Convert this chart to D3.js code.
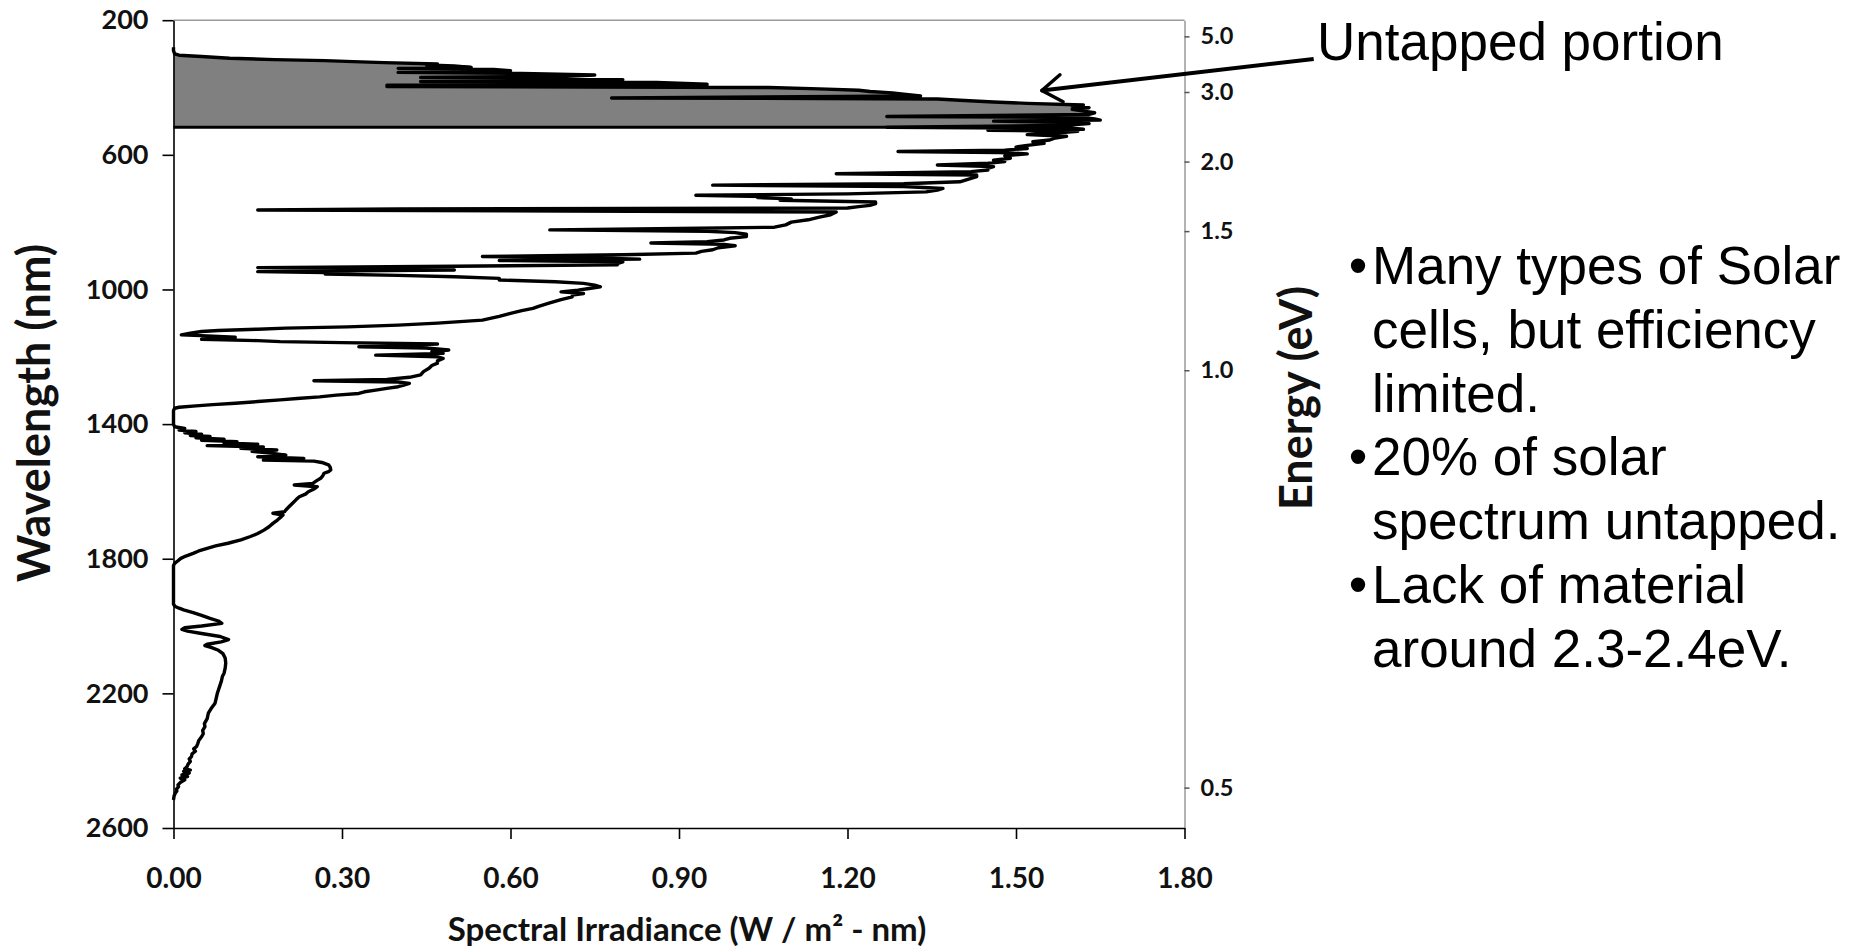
<!DOCTYPE html>
<html>
<head>
<meta charset="utf-8">
<script src="https://cdn.jsdelivr.net/npm/d3@7"></script>
<style>
  body { margin: 0; background: #fff; }
  svg { display: block; }
  .axis text { font-family: Lato, "Open Sans", sans-serif; font-weight: 700; fill: #111; }
  .title { font-family: Lato, "Open Sans", sans-serif; font-weight: 700; fill: #111; }
  .note { font-family: "Liberation Sans", Arial, sans-serif; fill: #000; }
</style>
</head>
<body>
<script>
// spectrum: wavelength (nm) -> spectral irradiance (W / m2 - nm)
const wavelength = [
  280, 290, 300, 304, 308, 313, 317, 320, 323, 326, 330, 333, 336, 340, 343, 346, 350, 355, 358, 363,
  367, 370, 373, 377, 382, 385, 390, 393, 395, 397, 400, 404, 408, 412, 416, 420, 425, 431, 434, 438,
  443, 447, 452, 456, 460, 465, 470, 475, 480, 486, 489, 493, 497, 500, 503, 507, 511, 514, 518, 521,
  524, 527, 530, 535, 540, 545, 550, 556, 561, 566, 572, 577, 581, 586, 590, 593, 597, 603, 610, 616,
  620, 625, 630, 635, 640, 645, 650, 656, 660, 665, 670, 675, 680, 686, 690, 694, 700, 705, 710, 716,
  720, 724, 727, 731, 735, 740, 745, 750, 754, 758, 761, 764, 767, 770, 778, 785, 793, 800, 808, 815,
  819, 823, 827, 831, 836, 843, 848, 853, 858, 862, 866, 870, 876, 882, 887, 892, 897, 902, 906, 910,
  914, 918, 923, 927, 931, 935, 938, 942, 947, 950, 954, 958, 962, 967, 972, 977, 982, 987, 992, 997,
  1002, 1007, 1012, 1017, 1022, 1030, 1040, 1050, 1056, 1063, 1071, 1080, 1091, 1100, 1106, 1111, 1115, 1118, 1122, 1125,
  1130, 1135, 1138, 1142, 1145, 1148, 1152, 1155, 1158, 1162, 1166, 1170, 1174, 1180, 1185, 1190, 1195, 1200, 1205, 1212,
  1219, 1226, 1234, 1244, 1254, 1261, 1267, 1271, 1275, 1279, 1284, 1289, 1294, 1299, 1304, 1309, 1314, 1319, 1324, 1328,
  1333, 1338, 1342, 1346, 1350, 1353, 1360, 1380, 1400, 1408, 1413, 1418, 1422, 1426, 1430, 1434, 1437, 1441, 1445, 1448,
  1452, 1456, 1460, 1464, 1468, 1472, 1477, 1481, 1487, 1492, 1497, 1502, 1507, 1510, 1514, 1521, 1528, 1536, 1541, 1546,
  1553, 1561, 1568, 1576, 1581, 1586, 1593, 1601, 1608, 1616, 1625, 1635, 1645, 1655, 1660, 1665, 1670, 1675, 1685, 1695,
  1705, 1715, 1725, 1734, 1744, 1754, 1762, 1769, 1777, 1784, 1792, 1799, 1806, 1814, 1820, 1880, 1935, 1942, 1947, 1952,
  1960, 1968, 1977, 1985, 1992, 2000, 2005, 2010, 2015, 2022, 2031, 2040, 2047, 2054, 2058, 2064, 2072, 2082, 2095, 2110,
  2125, 2140, 2150, 2165, 2180, 2190, 2200, 2215, 2229, 2245, 2259, 2275, 2290, 2299, 2310, 2320, 2329, 2340, 2350, 2358,
  2365, 2372, 2380, 2388, 2395, 2402, 2410, 2418, 2424, 2428, 2432, 2437, 2442, 2447, 2452, 2457, 2465, 2472, 2477, 2485,
  2490, 2497, 2505, 2517
];
const irradiance = [
  0, 0, 0.002, 0.01, 0.05, 0.10, 0.18, 0.27, 0.32, 0.375, 0.47, 0.45, 0.50, 0.53, 0.40, 0.57, 0.60, 0.40, 0.62, 0.75,
  0.70, 0.44, 0.72, 0.80, 0.44, 0.86, 0.95, 0.38, 0.95, 0.38, 1.06, 1.15, 1.22, 1.24, 1.28, 1.30, 1.33, 0.78, 1.36, 1.40,
  1.46, 1.52, 1.62, 1.60, 1.63, 1.60, 1.62, 1.64, 1.63, 1.27, 1.62, 1.64, 1.65, 1.46, 1.62, 1.63, 1.60, 1.50, 1.27, 1.60,
  1.62, 1.45, 1.61, 1.57, 1.52, 1.59, 1.57, 1.56, 1.53, 1.55, 1.52, 1.50, 1.52, 1.48, 1.29, 1.47, 1.52, 1.48, 1.49, 1.46,
  1.48, 1.45, 1.36, 1.46, 1.45, 1.45, 1.42, 1.18, 1.43, 1.43, 1.42, 1.41, 1.40, 1.30, 0.96, 1.30, 1.37, 1.36, 1.34, 1.20,
  0.93, 1.05, 1.04, 1.10, 1.08, 1.25, 1.25, 1.24, 1.22, 1.20, 0.40, 0.15, 0.70, 1.18, 1.17, 1.15, 1.13, 1.10, 1.09, 1.07,
  0.90, 0.67, 0.95, 1.00, 1.02, 1.02, 0.99, 0.98, 0.95, 0.85, 0.98, 1.00, 0.97, 0.96, 0.94, 0.93, 0.80, 0.55, 0.75, 0.83,
  0.58, 0.80, 0.79, 0.79, 0.50, 0.15, 0.45, 0.50, 0.15, 0.27, 0.27, 0.40, 0.50, 0.58, 0.58, 0.68, 0.73, 0.75, 0.76, 0.74,
  0.72, 0.69, 0.73, 0.71, 0.71, 0.69, 0.67, 0.65, 0.64, 0.62, 0.60, 0.58, 0.55, 0.47, 0.40, 0.31, 0.20, 0.15, 0.08, 0.05,
  0.03, 0.014, 0.06, 0.11, 0.07, 0.05, 0.15, 0.19, 0.30, 0.47, 0.40, 0.33, 0.45, 0.49, 0.46, 0.48, 0.36, 0.47, 0.48, 0.47,
  0.47, 0.46, 0.455, 0.445, 0.44, 0.42, 0.38, 0.25, 0.40, 0.42, 0.41, 0.40, 0.38, 0.36, 0.34, 0.33, 0.29, 0.26, 0.22, 0.19,
  0.15, 0.11, 0.07, 0.04, 0.01, 0.002, 0, 0, 0, 0.002, 0.02, 0.01, 0.04, 0.02, 0.05, 0.03, 0.065, 0.04, 0.09, 0.05,
  0.113, 0.09, 0.15, 0.06, 0.16, 0.12, 0.184, 0.14, 0.177, 0.20, 0.15, 0.232, 0.16, 0.25, 0.264, 0.276, 0.279, 0.28, 0.276, 0.268,
  0.266, 0.262, 0.255, 0.248, 0.215, 0.256, 0.25, 0.24, 0.235, 0.224, 0.218, 0.212, 0.206, 0.20, 0.198, 0.177, 0.195, 0.192, 0.185, 0.177,
  0.17, 0.161, 0.15, 0.137, 0.12, 0.097, 0.075, 0.06, 0.045, 0.035, 0.022, 0.013, 0.008, 0.002, 0, 0, 0, 0.003, 0.01, 0.018,
  0.035, 0.05, 0.065, 0.08, 0.086, 0.05, 0.02, 0.015, 0.025, 0.05, 0.083, 0.098, 0.085, 0.06, 0.056, 0.068, 0.08, 0.088, 0.092, 0.093,
  0.092, 0.09, 0.087, 0.085, 0.082, 0.08, 0.078, 0.076, 0.074, 0.067, 0.062, 0.06, 0.055, 0.056, 0.052, 0.053, 0.05, 0.045, 0.043, 0.041,
  0.036, 0.039, 0.033, 0.032, 0.028, 0.03, 0.026, 0.024, 0.02, 0.03, 0.018, 0.028, 0.015, 0.025, 0.012, 0.02, 0.012, 0.008, 0.009, 0.005,
  0.006, 0.003, 0.001, 0
];
const xTicks = [0, 0.3, 0.6, 0.9, 1.2, 1.5, 1.8];
const yTicks = [200, 600, 1000, 1400, 1800, 2200, 2600];
const energyTicks = [5.0, 3.0, 2.0, 1.5, 1.0, 0.5];
const untappedEdge = 518; // nm, about 2.4 eV
const bulletLines = [
  { text: "Many types of Solar", bullet: true },
  { text: "cells, but efficiency", bullet: false },
  { text: "limited.", bullet: false },
  { text: "20% of solar", bullet: true },
  { text: "spectrum untapped.", bullet: false },
  { text: "Lack of material", bullet: true },
  { text: "around 2.3-2.4eV.", bullet: false },
];
//
const w = 1863;
const h = 949;
const p = { t: 20.2, r: 678.5, b: 121, l: 173.5 };

const data = wavelength.map((wl, i) => ({ wl: wl, v: irradiance[i] }));

const svg = d3
  .select("body")
  .append("svg")
  .attr("width", w)
  .attr("height", h);

svg.append("rect").attr("width", w).attr("height", h).attr("fill", "#fff");

const x = d3.scaleLinear().domain([0, 1.8]).range([p.l, w - p.r]);
const y = d3.scaleLinear().domain([200, 2600]).range([p.t, h - p.b]);

// untapped (high energy) part of the spectrum
const untapped = data.filter((d) => d.wl <= untappedEdge);
svg
  .append("path")
  .datum(untapped)
  .attr("fill", "#808080")
  .attr("d", d3.area().y((d) => y(d.wl)).x0(x(0)).x1((d) => x(d.v)));

svg
  .append("line")
  .attr("x1", x(0))
  .attr("x2", x(untapped[untapped.length - 1].v))
  .attr("y1", y(untappedEdge))
  .attr("y2", y(untappedEdge))
  .attr("stroke", "#000")
  .attr("stroke-width", 3);

// spectrum
svg
  .append("path")
  .datum(data)
  .attr("fill", "none")
  .attr("stroke", "#000")
  .attr("stroke-width", 3.4)
  .attr("stroke-linejoin", "round")
  .attr("d", d3.line().x((d) => x(d.v)).y((d) => y(d.wl)));

// frame: top and right in grey
svg
  .append("line")
  .attr("x1", x(0))
  .attr("x2", x(1.8))
  .attr("y1", y(200))
  .attr("y2", y(200))
  .attr("stroke", "#9a9a9a")
  .attr("stroke-width", 1.5);

const right = svg
  .append("g")
  .attr("class", "axis")
  .attr("transform", `translate(${x(1.8)},0)`)
  .call(
    d3
      .axisRight(y)
      .tickValues(energyTicks.map((e) => 1240 / e))
      .tickFormat((v) => (1240 / v).toFixed(1))
      .tickSize(5)
      .tickSizeOuter(0)
      .tickPadding(11)
  );
right.select(".domain").attr("stroke", "#9a9a9a").attr("stroke-width", 1.5);
right.selectAll(".tick line").attr("stroke", "#555").attr("stroke-width", 1.5);
right.selectAll(".tick text").attr("font-size", 23.5);

const left = svg
  .append("g")
  .attr("class", "axis")
  .attr("transform", `translate(${x(0)},0)`)
  .call(
    d3
      .axisLeft(y)
      .tickValues(yTicks)
      .tickFormat(d3.format("d"))
      .tickSize(11)
      .tickSizeOuter(0)
      .tickPadding(14)
  );
left.selectAll("path, line").attr("stroke", "#000").attr("stroke-width", 1.6);
left.selectAll(".tick text").attr("font-size", 27);

const bottom = svg
  .append("g")
  .attr("class", "axis")
  .attr("transform", `translate(0,${y(2600)})`)
  .call(
    d3
      .axisBottom(x)
      .tickValues(xTicks)
      .tickFormat(d3.format(".2f"))
      .tickSize(11)
      .tickSizeOuter(0)
      .tickPadding(29)
  );
bottom.selectAll("path, line").attr("stroke", "#000").attr("stroke-width", 1.6);
bottom.selectAll(".tick text").attr("font-size", 28);

// axis titles
svg
  .append("text")
  .attr("class", "title")
  .attr("transform", `translate(50,413) rotate(-90)`)
  .attr("text-anchor", "middle")
  .attr("font-size", 45)
  .text("Wavelength (nm)");

svg
  .append("text")
  .attr("class", "title")
  .attr("transform", `translate(1312,398) rotate(-90)`)
  .attr("text-anchor", "middle")
  .attr("font-size", 45)
  .text("Energy (eV)");

svg
  .append("text")
  .attr("class", "title")
  .attr("x", (x(0) + x(1.8)) / 2 + 8)
  .attr("y", 941)
  .attr("text-anchor", "middle")
  .attr("font-size", 33)
  .text("Spectral Irradiance (W / m² - nm)");

// annotation arrow
const tail = [x(2.03), y(315)];
const tip = [x(1.546), y(409)];
svg
  .append("line")
  .attr("x1", tail[0])
  .attr("y1", tail[1])
  .attr("x2", tip[0])
  .attr("y2", tip[1])
  .attr("stroke", "#000")
  .attr("stroke-width", 4);
const ang = Math.atan2(tail[1] - tip[1], tail[0] - tip[0]);
[-0.6, 0.6].forEach((da) => {
  svg
    .append("line")
    .attr("x1", tip[0])
    .attr("y1", tip[1])
    .attr("x2", tip[0] + 24 * Math.cos(ang + da))
    .attr("y2", tip[1] + 24 * Math.sin(ang + da))
    .attr("stroke", "#000")
    .attr("stroke-width", 3.5)
    .attr("stroke-linecap", "round");
});

svg
  .append("text")
  .attr("class", "note")
  .attr("x", 1317)
  .attr("y", 60)
  .attr("font-size", 53)
  .text("Untapped portion");

// bullet list
const notes = svg.append("g").attr("class", "note").attr("font-size", 53);
notes
  .selectAll("text.line")
  .data(bulletLines)
  .enter()
  .append("text")
  .attr("class", "line")
  .attr("x", 1372)
  .attr("y", (d, i) => 284 + i * 63.8)
  .text((d) => d.text);
notes
  .selectAll("text.dot")
  .data(bulletLines.filter((d) => d.bullet))
  .enter()
  .append("text")
  .attr("class", "dot")
  .attr("x", 1358)
  .attr("y", (d) => 284 + bulletLines.indexOf(d) * 63.8)
  .attr("text-anchor", "middle")
  .text("•");
</script>
</body>
</html>
